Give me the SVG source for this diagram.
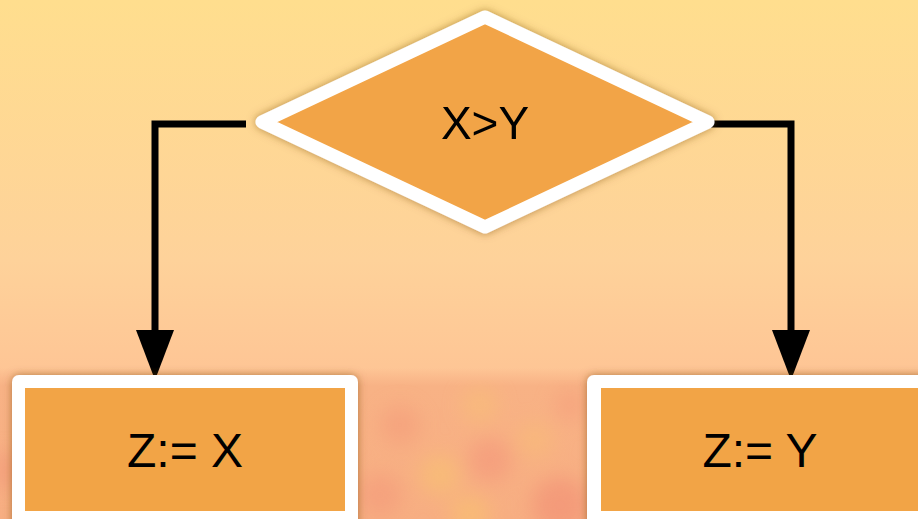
<svg xmlns="http://www.w3.org/2000/svg" width="918" height="519" viewBox="0 0 918 519">
  <style>
    .lbl { font-family: "Liberation Sans", Arial, sans-serif; fill: #000; text-anchor: middle; }
    .conn { fill: none; stroke: #000; stroke-width: 7; stroke-linejoin: miter; }
    .frame { fill: #fff; }
    .fill { fill: #F2A446; }
  </style>
  <defs>
    <linearGradient id="bg" x1="0" y1="0" x2="0" y2="1">
      <stop offset="0" stop-color="#FFDE8E"/>
      <stop offset="0.5" stop-color="#FED29A"/>
      <stop offset="0.72" stop-color="#FEC595"/>
      <stop offset="1" stop-color="#FBB48E"/>
    </linearGradient>
    <linearGradient id="texfade" x1="0" y1="0" x2="0" y2="1">
      <stop offset="0" stop-color="#F8B285" stop-opacity="0"/>
      <stop offset="0.12" stop-color="#F8B285" stop-opacity="1"/>
      <stop offset="1" stop-color="#F7AE82" stop-opacity="1"/>
    </linearGradient>
    <filter id="blur" x="-30%" y="-30%" width="160%" height="160%">
      <feGaussianBlur stdDeviation="10"/>
    </filter>
    <filter id="shadow" x="-10%" y="-10%" width="120%" height="120%">
      <feDropShadow dx="0" dy="0" stdDeviation="4" flood-color="#7A4A18" flood-opacity="0.55"/>
    </filter>
    <marker id="arrow" viewBox="0 0 50 38" refX="0" refY="19" markerWidth="50" markerHeight="38" markerUnits="userSpaceOnUse" orient="auto">
      <path d="M0,0 L50,19 L0,38 Z" fill="#000"/>
    </marker>
    <clipPath id="texclip"><rect x="0" y="380" width="918" height="139"/></clipPath>
  </defs>

  <rect x="0" y="0" width="918" height="519" fill="url(#bg)"/>

  <g id="texture">
    <rect x="0" y="368" width="918" height="151" fill="url(#texfade)"/>
    <g clip-path="url(#texclip)">
      <g filter="url(#blur)" opacity="0.6">
        <circle cx="400" cy="425" r="20" fill="#F49C7A"/>
        <circle cx="480" cy="405" r="18" fill="#F8BE78"/>
        <circle cx="490" cy="460" r="22" fill="#F4967A"/>
        <circle cx="440" cy="475" r="20" fill="#F8C272"/>
        <circle cx="560" cy="505" r="28" fill="#F28E74"/>
        <circle cx="380" cy="495" r="22" fill="#F49A7A"/>
        <circle cx="535" cy="440" r="18" fill="#F8BC78"/>
        <circle cx="470" cy="515" r="20" fill="#F9C270"/>
        <circle cx="5" cy="470" r="18" fill="#F29878"/>
        <circle cx="570" cy="405" r="16" fill="#F59E7C"/>
      </g>
    </g>
  </g>

  <g id="connectors">
    <path class="conn" d="M246,124 H155 V330" marker-end="url(#arrow)"/>
    <path class="conn" d="M699,124 H791 V330" marker-end="url(#arrow)"/>
  </g>

  <g id="decision" filter="url(#shadow)">
    <polygon points="485,17 262,122 485,227 708,122" fill="#F2A446" stroke="#fff" stroke-width="13" stroke-linejoin="round"/>
    <text class="lbl" x="485" y="139" font-size="46">X&gt;Y</text>
  </g>

  <g id="box-x">
    <rect class="frame" x="12" y="375" width="346" height="170" rx="7" filter="url(#shadow)"/>
    <rect class="fill" x="25" y="388" width="320" height="123"/>
    <text class="lbl" x="185" y="467" font-size="48">Z:= X</text>
  </g>

  <g id="box-y">
    <rect class="frame" x="587" y="375" width="360" height="170" rx="7" filter="url(#shadow)"/>
    <rect class="fill" x="601" y="388" width="330" height="123"/>
    <text class="lbl" x="760" y="467" font-size="48">Z:= Y</text>
  </g>
</svg>
